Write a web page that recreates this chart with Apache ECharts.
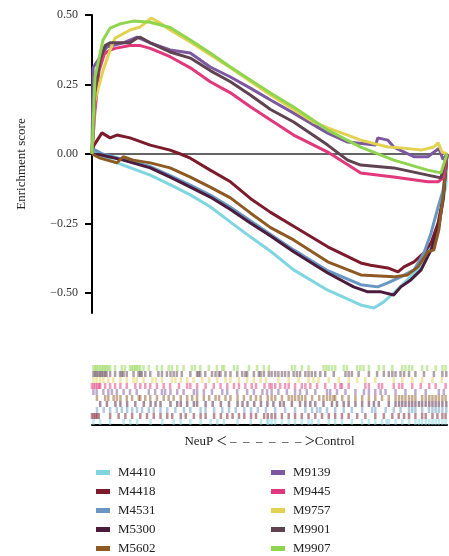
<!DOCTYPE html>
<html>
<head>
<meta charset="utf-8">
<script src="https://cdn.jsdelivr.net/npm/echarts@6/dist/echarts.min.js"></script>
<style>
html,body{margin:0;padding:0;background:#fff;}
#c{width:449px;height:556px;}
</style>
</head>
<body>
<div id="c"></div>
<script>
// ---- data (x = rank position in %, y = enrichment score) ----
const names = ['M4410','M4418','M4531','M5300','M5602','M9139','M9445','M9757','M9901','M9907'];
const colors = ['#7fd6e1','#7c1b2c','#6797c2','#4b1c3d','#8e5a23','#7b58a0','#e0387a','#e2d250','#5f4350','#8fd54f'];
const yTicks = [-0.5,-0.25,0,0.25,0.5];

const m4410 = [[0,0],[0.4,0.014],[5.1,-0.022],[8.8,-0.04],[16.4,-0.076],[22,-0.11],[27.7,-0.147],[33.3,-0.19],[39,-0.245],[44.6,-0.298],[50.3,-0.35],[56.8,-0.417],[66.4,-0.49],[75.7,-0.543],[79.4,-0.554],[82.2,-0.532],[85,-0.5],[87.9,-0.464],[91.8,-0.417],[94.6,-0.356],[96.3,-0.309],[98.3,-0.212],[99.7,-0.11],[100,0]];
const m4418 = [[0,0],[0.5,0.03],[2.8,0.076],[5.1,0.058],[7,0.068],[10.7,0.058],[16.4,0.032],[22,0.014],[24.9,0],[27.7,-0.015],[33.3,-0.058],[39,-0.1],[44.6,-0.16],[50.3,-0.21],[56.8,-0.26],[66.4,-0.334],[75.7,-0.392],[78.5,-0.4],[83.3,-0.41],[86.2,-0.424],[87.9,-0.406],[90.7,-0.388],[93.5,-0.356],[95.5,-0.32],[97.5,-0.248],[98.9,-0.155],[100,0]];
const m4531 = [[0,0],[0.4,0.018],[3,0],[8.8,-0.02],[16.4,-0.045],[22,-0.078],[27.7,-0.112],[33.3,-0.148],[39,-0.192],[44.6,-0.24],[50.3,-0.29],[56.8,-0.345],[66.4,-0.42],[75.7,-0.47],[80.5,-0.478],[83.3,-0.464],[87,-0.442],[90.7,-0.417],[93.5,-0.356],[95.5,-0.285],[97.5,-0.19],[98.9,-0.13],[100,0]];
const m5300 = [[0,0],[2.3,-0.003],[8.8,-0.022],[16.4,-0.05],[22,-0.083],[27.7,-0.119],[33.3,-0.155],[39,-0.2],[44.6,-0.248],[50.3,-0.295],[56.8,-0.352],[66.4,-0.428],[73.7,-0.478],[77.7,-0.496],[81.4,-0.496],[85,-0.507],[87,-0.478],[89.8,-0.453],[92.7,-0.417],[95.5,-0.345],[97.5,-0.273],[98.9,-0.165],[100,0]];
const m5602 = [[0,0],[2.3,-0.015],[7,-0.032],[8.8,-0.01],[11.6,-0.022],[16.4,-0.032],[22,-0.05],[27.7,-0.083],[33.3,-0.119],[39,-0.158],[44.6,-0.212],[50.3,-0.265],[56.8,-0.309],[66.4,-0.388],[75.7,-0.435],[85,-0.442],[88.9,-0.435],[91.8,-0.406],[94.6,-0.352],[96.3,-0.345],[97.7,-0.273],[99.2,-0.12],[100,0]];
const m9139 = [[0,0],[0.3,0.31],[0.8,0.32],[4.2,0.385],[8.8,0.4],[12.7,0.42],[16.4,0.4],[22,0.374],[27.7,0.363],[33.3,0.313],[39,0.277],[44.6,0.237],[50.3,0.194],[56.8,0.147],[66.4,0.075],[72,0.043],[79.9,0.032],[80.5,0.058],[83.3,0.05],[85,0.025],[90.7,-0.01],[94.6,-0.01],[97.7,0.02],[98.9,-0.02],[100,0]];
const m9445 = [[0,0],[0.8,0.15],[2,0.3],[3.5,0.36],[5.1,0.374],[6.5,0.38],[10.7,0.39],[13.6,0.39],[16.4,0.38],[22,0.35],[27.7,0.31],[33.3,0.26],[39,0.22],[44.6,0.17],[50.3,0.122],[56.8,0.068],[66.4,0.007],[75.7,-0.068],[85,-0.083],[94.6,-0.1],[97.5,-0.1],[99,-0.085],[100,0]];
const m9757 = [[0,0],[0.8,0.19],[3.1,0.3],[5.1,0.374],[6.5,0.417],[10.7,0.446],[13.6,0.457],[16.7,0.489],[19.2,0.471],[22,0.446],[27.7,0.403],[39,0.31],[50.3,0.212],[62.4,0.115],[66.4,0.094],[72,0.068],[75.7,0.05],[83.3,0.025],[87,0.022],[92.7,0.014],[96.3,0.025],[97.5,0.04],[98.6,0.007],[100,0]];
const m9901 = [[0,0],[0.8,0.22],[2.3,0.34],[3.7,0.39],[5.1,0.4],[10.7,0.4],[12.7,0.417],[13.6,0.42],[16.4,0.4],[22,0.367],[27.7,0.345],[33.3,0.3],[39,0.26],[44.6,0.212],[50.3,0.16],[56.8,0.115],[66.4,0.032],[72,-0.022],[75.7,-0.04],[85,-0.05],[94.6,-0.076],[98.3,-0.086],[100,0]];
const m9907 = [[0,0],[0.85,0.277],[3.1,0.41],[5.1,0.453],[7.9,0.468],[11.6,0.478],[16.4,0.474],[22,0.455],[27.7,0.41],[33.3,0.363],[39,0.313],[44.6,0.266],[50.3,0.219],[56.8,0.169],[66.4,0.086],[75.7,0.025],[85,-0.022],[94.6,-0.058],[98.3,-0.068],[100,0]];

// gene-set hit positions (rank %) for the barcode strip
const h4410 = [0.4,2.3,5.1,8.9,10.8,12.7,16.5,19.8,23,25,27.7,30.6,33.4,35.3,37.2,41,44.7,47.6,49.4,49.7,50.6,51.6,53.5,55.4,57.2,59.1,61,61.9,63.8,66.7,68.5,70.4,73.2,76.1,78,79.8,81.7,83,83.6,85.5,87.4,89.3,91.1,92.1,93,94,95,95.9,96.8,97.7,98.7,99.6];
const h4418 = [0,0.5,1,1.4,1.9,5.1,7.5,9.4,11.3,13.6,15.5,17.4,19.3,21.2,22.6,25,26.4,28.7,30.6,32,34.4,36.3,38.1,39.6,41.4,42.9,44.8,46.2,48.5,49.5,50.6,51.6,53.5,55.4,57.2,59.1,61,62.9,64.8,66.7,68.5,70.4,72.3,74.7,77,79.8,82.2,84.6,86.4,87.9,89.3,91.1,93,94,95.9,97.3,98.7,99.6];
const h4531 = [1.4,3.3,5.1,7,8.4,9.9,11.3,12.7,14.1,16,17.4,19.3,21.2,23.5,25.9,27.7,30.6,32,34.4,36.7,38.6,40.5,42.9,44.8,46.7,49,51.6,54.4,57.2,60.1,62,63.4,64.3,66.2,68.5,70.9,73.2,76.1,78.9,79.8,82.7,85,86.9,89.3,90.2,91.1,93,94.9,95.9,96.8,97.7,98.7,99.8];
const h5300 = [2.3,4.2,6.6,8,9.9,12.2,14.6,16.5,17.9,19.3,22.1,24,25,26.8,28.7,29.6,32,34,36.3,38.6,41,42.4,43.8,45.7,47.6,49.4,51.1,53,54,56.3,58.6,60.1,61.5,62.9,65.2,67.6,69,70.9,72.3,74.2,76.1,78,79.4,80.8,83.6,85.5,86.5,87.4,88.3,89.3,90.2,91.1,92.1,93,94,95,95.9,96.8,97.7,98.7,99.8];
const h5602 = [1.4,3.7,4.6,6.1,7,8,9.8,11.3,13.2,13.6,15,16.4,18.3,20.2,21.6,23,25,26.8,28.2,29.6,31.5,33,34.8,35.8,37.6,39,41,42.8,44.7,46.2,47.5,49.5,50.6,51.6,53.5,55.4,56.3,57.2,58.2,59.1,60.1,62,64,65.2,66.2,67.1,68,68.5,70.5,72.3,74.2,76.1,78,79.8,81.7,83.6,85.5,86.5,87.4,88.3,89.3,90.2,91.1,93,94,95,95.9,96.8,97.7,98.7,99.6];
const h9139 = [0.4,1.3,3.2,4.6,5.6,7,8.9,10.7,12.6,16,17.8,19.7,20.6,22.1,24,25.8,28.7,29.6,31.5,33.8,36.7,38.1,40.9,43.7,45.6,48,49.3,50.6,52.5,54.9,57.2,58.6,60.5,62.9,66.2,67.1,69,71.4,74.2,76.6,78,79.8,81.3,82.7,85.5,88.3,91.1,94,97.7,99.1];
const h9445 = [0,0.5,1,1.5,2,2.3,3.7,5.1,6.5,8,9.8,12.2,13.6,15,16.4,18.3,20.2,22,24.5,26.8,27.7,29.6,32,34.3,36.2,38.1,40,41.4,43.2,45,46.2,48.6,50,50.6,51.6,53,54.4,55.4,57.2,59.1,60.1,61.5,63.4,65.7,68.5,70,70.4,72.3,77,78,80.8,81.7,85,86.5,87.4,90.2,92.6,95,96.8,99.6];
const h9757 = [0.4,1.3,2.3,3.2,4.6,6,8,9.8,11.7,12.6,14.5,17,18,19.7,22.5,23.5,25,26.8,28.6,31,33,35.3,37.6,39,41.4,43.7,45.6,47.5,49,52.5,55.4,58.2,61,62.4,63.8,66.7,69.5,72.3,74.7,77,79.8,85,87.4,90.2,93,95.9,98.5];
const h9901 = [0.4,0.9,1.3,1.8,2.3,2.7,3.2,3.7,4.1,5.1,6.5,7.9,8.4,8.9,9.8,11.7,13.1,13.6,14,15,16.4,18.7,19.7,21.1,22.1,23,23.9,25.3,27.7,29.6,30,30.5,31.9,33.8,34.8,35.7,36.2,37.6,39,40.9,42.3,43.2,43.7,45.6,47,47.5,48.4,49.8,50.6,51.6,52.5,53.5,54.4,55.4,56.8,57.7,58.6,60.1,61,61.9,62.9,64.3,65.7,68.1,71.4,72.3,73.2,75.1,78,80.3,82.2,83.6,84.6,85.5,86.9,87.9,89.3,91.1,93.5,96.3,98.7,99.8];
const h9907 = [0.4,0.9,1.3,1.8,2.3,2.8,3.2,3.7,4.1,4.6,5.1,6.5,8.4,9.3,10.7,11.2,11.7,12.2,12.6,13.1,13.6,14.5,16,18.3,19.7,21.6,22.5,24,25.8,28.1,29,30.5,32.9,35.2,36.7,37.2,40,41,44.2,46.5,48.4,49.8,56.3,57.2,59.1,61,65.2,66,66.7,67.6,68.5,70.9,71.8,74.7,75.6,76.5,78,80.8,82.2,84.6,87.4,88.3,89.3,90.2,93,94.4,96.8,98.7,99.6];

const curves = [m4410,m4418,m4531,m5300,m5602,m9139,m9445,m9757,m9901,m9907];
const hits = [h4410,h4418,h4531,h5300,h5602,h9139,h9445,h9757,h9901,h9907];

// ---- chart ----
const FONT = '"Liberation Serif", "Times New Roman", serif';
const chart = echarts.init(document.getElementById('c'), null, {renderer:'canvas'});

const series = [];
names.forEach((n,i)=>{
  series.push({
    name: n, type: 'line', xAxisIndex: 0, yAxisIndex: 0,
    data: curves[i], showSymbol: false, symbol: 'none',
    lineStyle: {color: colors[i], width: 3},
    itemStyle: {color: colors[i]},
    z: 3 + i
  });
});
names.forEach((n,i)=>{
  series.push({
    name: 'hits ' + n, type: 'scatter', xAxisIndex: 1, yAxisIndex: 1,
    data: hits[i].map(x => [x, n]),
    symbol: 'rect', symbolSize: [2.5, 6],
    itemStyle: {color: colors[i], opacity: 0.5},
    silent: true
  });
});

const legendBase = {
  orient: 'vertical', icon: 'rect', itemWidth: 14, itemHeight: 5, itemGap: 6,
  padding: 0, height: 100,
  selectedMode: false,
  textStyle: {fontFamily: FONT, fontSize: 13, color: '#222', padding: [0,0,0,3]}
};

const dash = '\u2013\u2002';
chart.setOption({
  animation: false,
  backgroundColor: '#fff',
  grid: [
    {left: 92, top: 15, width: 355, height: 298},
    {left: 92, top: 365, width: 355, height: 60}
  ],
  xAxis: [
    {type: 'value', gridIndex: 0, min: 0, max: 100,
     axisLine: {show: true, onZero: true, lineStyle: {color: '#333', width: 1.5}},
     axisTick: {show: false}, axisLabel: {show: false}, splitLine: {show: false}},
    {type: 'value', gridIndex: 1, min: 0, max: 100, position: 'bottom',
     name: 'NeuP {a|<} ' + dash.repeat(5) + '\u2013 {a|>}Control', nameLocation: 'middle', nameGap: 8,
     nameTextStyle: {fontFamily: FONT, fontSize: 13, color: '#222',
       rich: {a: {fontFamily: FONT, fontSize: 18, color: '#222'}}},
     axisLine: {show: true, lineStyle: {color: '#000', width: 2}},
     axisTick: {show: false}, axisLabel: {show: false}, splitLine: {show: false}}
  ],
  yAxis: [
    {type: 'value', gridIndex: 0, min: -0.572, max: 0.5,
     name: 'Enrichment score', nameLocation: 'middle', nameGap: 64,
     nameTextStyle: {fontFamily: FONT, fontSize: 13, color: '#222'},
     axisLine: {show: true, onZero: false, lineStyle: {color: '#000', width: 2}},
     axisTick: {show: true, length: 7, customValues: yTicks, lineStyle: {color: '#000', width: 2}},
     axisLabel: {show: true, customValues: yTicks, margin: 14, fontFamily: FONT, fontSize: 12, color: '#333',
       formatter: v => (v < 0 ? '\u2212' : '') + Math.abs(v).toFixed(2)},
     splitLine: {show: false}},
    {type: 'category', gridIndex: 1, data: names, boundaryGap: true,
     axisLine: {show: false}, axisTick: {show: false}, axisLabel: {show: false}, splitLine: {show: false}}
  ],
  legend: [
    Object.assign({}, legendBase, {left: 96, top: 466, data: names.slice(0,5)}),
    Object.assign({}, legendBase, {left: 271, top: 466, data: names.slice(5)})
  ],
  series: series
});
</script>
</body>
</html>
